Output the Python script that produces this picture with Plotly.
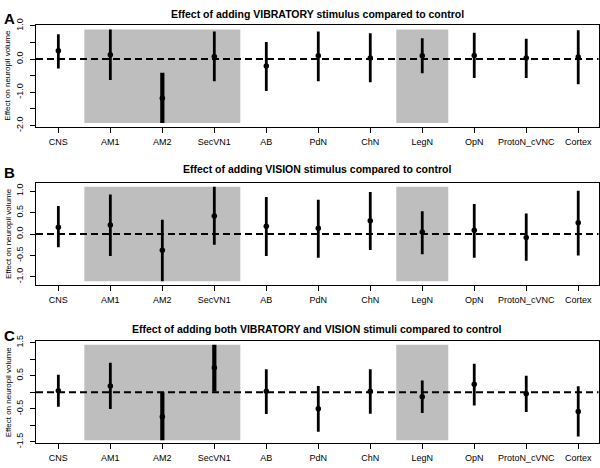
import plotly.graph_objects as go

categories = ["CNS", "AM1", "AM2", "SecVN1", "AB", "PdN", "ChN", "LegN", "OpN", "ProtoN_cVNC", "Cortex"]

titles = [
    "Effect of adding VIBRATORY stimulus compared to control",
    "Effect of adding VISION stimulus compared to control",
    "Effect of adding both VIBRATORY and VISION stimuli compared to control",
]
panel_letters = ["A", "B", "C"]

# Panel A: vibratory
a_est = [0.25, 0.13, -1.18, 0.08, -0.21, 0.10, 0.03, 0.10, 0.11, 0.03, 0.06]
a_lo = [-0.28, -0.63, -1.92, -0.67, -0.96, -0.67, -0.70, -0.43, -0.57, -0.57, -0.76]
a_hi = [0.75, 0.89, -0.41, 0.83, 0.51, 0.83, 0.78, 0.63, 0.79, 0.61, 0.87]
a_sig = [0, 0, 1, 0, 0, 0, 0, 0, 0, 0, 0]

# Panel B: vision
b_est = [0.16, 0.21, -0.38, 0.42, 0.18, 0.135, 0.31, 0.045, 0.09, -0.08, 0.26]
b_lo = [-0.31, -0.51, -1.10, -0.25, -0.51, -0.55, -0.37, -0.47, -0.55, -0.62, -0.50]
b_hi = [0.65, 0.92, 0.33, 1.10, 0.86, 0.80, 0.98, 0.53, 0.70, 0.48, 1.01]
b_sig = [0, 0, 0, 0, 0, 0, 0, 0, 0, 0, 0]

# Panel C: both
c_est = [0.04, 0.19, -0.74, 0.74, 0.03, -0.50, 0.03, -0.14, 0.24, -0.05, -0.58]
c_lo = [-0.44, -0.51, -1.45, 0.02, -0.66, -1.19, -0.65, -0.63, -0.40, -0.60, -1.34]
c_hi = [0.53, 0.89, 0.0, 1.43, 0.69, 0.19, 0.69, 0.35, 0.86, 0.50, 0.18]
c_sig = [0, 0, 1, 1, 0, 0, 0, 0, 0, 0, 0]

y_ranges = [[-2.03, 1.03], [-1.18, 1.18], [-1.54, 1.53]]
y_ticks = [
    [-2.0, -1.5, -1.0, -0.5, 0.0, 0.5, 1.0],
    [-1.0, -0.5, 0.0, 0.5, 1.0],
    [-1.5, -1.0, -0.5, 0.0, 0.5, 1.0, 1.5],
]
y_ticktext = [
    ["-2.0", "", "-1.0", "", "0.0", "", "1.0"],
    ["-1.0", "-0.5", "0.0", "0.5", "1.0"],
    ["-1.5", "", "-0.5", "", "0.5", "", "1.5"],
]
shaded_groups = [["AM1", "AM2", "SecVN1"], ["LegN"]]

panels = [
    (a_est, a_lo, a_hi, a_sig),
    (b_est, b_lo, b_hi, b_sig),
    (c_est, c_lo, c_hi, c_sig),
]

W, H = 600, 468
FONT = "Liberation Sans, Arial, Helvetica, sans-serif"
x_dom = [36 / W, 598.5 / W]
# panel box tops/bottoms in px
boxes = [(18.3, 122.7), (181.0, 285.0), (343.3, 447.7)]
title_y = [7.5, 166.5, 330.0]
letter_y = [11.5, 170.0, 337.0]

xpos = list(range(1, len(categories) + 1))

fig = go.Figure()
shapes = []
annotations = []

for p, (est, lo, hi, sig) in enumerate(panels):
    suffix = "" if p == 0 else str(p + 1)
    xa = "x" + suffix
    ya = "y" + suffix
    top, bot = boxes[p]
    ymin = min(lo)
    ymax = max(hi)
    # shaded groups
    for grp in shaded_groups:
        i0 = categories.index(grp[0]) + 1
        i1 = categories.index(grp[-1]) + 1
        shapes.append(dict(type="rect", xref=xa, yref=ya, x0=i0 - 0.5, x1=i1 + 0.5,
                           y0=ymin, y1=ymax, fillcolor="#bebebe", line=dict(width=0),
                           layer="below"))
    # dashed zero line
    shapes.append(dict(type="line", xref=xa + " domain", yref=ya, x0=0, x1=1, y0=0, y1=0,
                       line=dict(color="black", width=2, dash="7px,4px"), layer="above"))
    for flag, thick in [(0, 2.8), (1, 4.2)]:
        idx = [i for i in range(len(categories)) if sig[i] == flag]
        if not idx:
            continue
        fig.add_trace(go.Scatter(
            x=[xpos[i] for i in idx],
            y=[est[i] for i in idx],
            mode="markers",
            marker=dict(color="black", size=5.5),
            error_y=dict(type="data", symmetric=False,
                         array=[hi[i] - est[i] for i in idx],
                         arrayminus=[est[i] - lo[i] for i in idx],
                         width=0, thickness=thick, color="black"),
            xaxis=xa, yaxis=ya, showlegend=False, cliponaxis=False,
        ))
    ydom = [1 - bot / H, 1 - top / H]
    fig.layout["xaxis" + suffix] = dict(
        domain=x_dom, range=[0.57, 11.39], anchor=ya,
        tickvals=xpos, ticktext=categories, ticks="outside", ticklen=5,
        tickwidth=1.2, tickcolor="black", showline=True, linecolor="black",
        linewidth=1.3, mirror=True, showgrid=False, zeroline=False,
        tickfont=dict(family=FONT, size=9, color="black"), ticklabelstandoff=1,
        fixedrange=True,
    )
    fig.layout["yaxis" + suffix] = dict(
        domain=ydom, range=y_ranges[p], anchor=xa,
        tickvals=y_ticks[p], ticktext=y_ticktext[p], ticks="outside", ticklen=5,
        tickwidth=1.2, tickcolor="black", showline=True, linecolor="black",
        linewidth=1.3, mirror=True, showgrid=False, zeroline=False, tickangle=-90,
        tickfont=dict(family=FONT, size=9, color="black"), ticklabelstandoff=3,
        fixedrange=True,
    )
    annotations.append(dict(text="<b>" + titles[p] + "</b>", xref="paper", yref="paper",
                            x=(x_dom[0] + x_dom[1]) / 2, y=1 - title_y[p] / H,
                            xanchor="center", yanchor="middle", showarrow=False,
                            font=dict(family=FONT, size=10.5, color="black")))
    annotations.append(dict(text="<b>" + panel_letters[p] + "</b>", xref="paper", yref="paper",
                            x=2 / W, y=1 - letter_y[p] / H, xanchor="left", yanchor="middle",
                            showarrow=False, font=dict(family=FONT, size=15, color="black")))
    annotations.append(dict(text="Effect on neuropil volume", xref="paper", yref="paper",
                            x=8 / W, y=1 - (top + bot) / 2 / H, xanchor="center",
                            yanchor="middle", textangle=-90, showarrow=False,
                            font=dict(family=FONT, size=8, color="black")))

fig.update_layout(
    width=W, height=H, margin=dict(l=0, r=0, t=0, b=0),
    paper_bgcolor="white", plot_bgcolor="white",
    shapes=shapes, annotations=annotations, showlegend=False,
)

fig.write_html("out.html", config={"displayModeBar": False})
